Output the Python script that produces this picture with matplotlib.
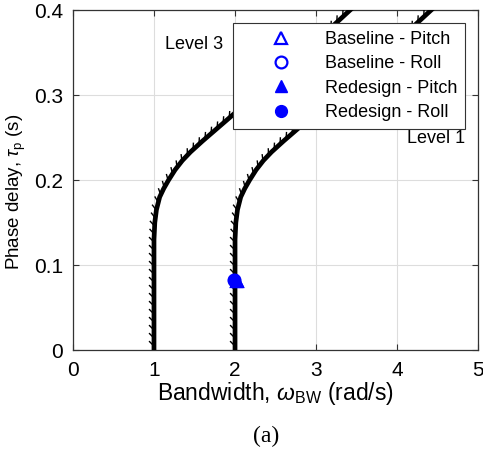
import matplotlib
matplotlib.use("Agg")
import matplotlib.pyplot as plt
from matplotlib.collections import LineCollection
import numpy as np

plt.rcParams["font.family"] = "Liberation Sans"
plt.rcParams["mathtext.fontset"] = "custom"
plt.rcParams["mathtext.rm"] = "Liberation Sans"
plt.rcParams["mathtext.it"] = "Liberation Sans:italic"

# Level boundaries (bandwidth rad/s, phase delay s)
lvl3_bw = [1.0, 1.0, 1.01, 1.03, 1.07, 1.12, 1.18, 1.26, 1.35, 1.45, 1.60, 1.94, 2.50, 3.00, 3.42, 3.55]
lvl3_tau = [0.0, 0.13, 0.15, 0.165, 0.18, 0.19, 0.20, 0.212, 0.223, 0.233, 0.246, 0.274, 0.321, 0.363, 0.40, 0.411]
lvl1_bw = [2.0, 2.0, 2.01, 2.03, 2.07, 2.12, 2.18, 2.26, 2.35, 2.45, 2.60, 2.94, 3.50, 4.00, 4.42, 4.55]
lvl1_tau = [0.0, 0.13, 0.15, 0.165, 0.18, 0.19, 0.20, 0.212, 0.223, 0.233, 0.246, 0.274, 0.321, 0.363, 0.40, 0.411]

# aircraft points
base_pitch = (2.03, 0.081)
base_roll = (1.99, 0.083)
redes_pitch = (2.03, 0.081)
redes_roll = (1.99, 0.083)


def hatch(ax, bw, tau, spacing=8.0, length=7.0, angle=45):
    # short ticks on the left side of the boundary, spaced evenly in pixels
    pts = ax.transData.transform(np.column_stack([bw, tau]))
    seg = np.diff(pts, axis=0)
    ds = np.hypot(seg[:, 0], seg[:, 1])
    keep = ds > 0
    pts0, seg, ds = pts[:-1][keep], seg[keep], ds[keep]
    s = np.concatenate([[0], np.cumsum(ds)])
    st = np.arange(spacing / 2, s[-1], spacing)
    idx = np.clip(np.searchsorted(s, st, side="right") - 1, 0, len(seg) - 1)
    frac = (st - s[idx]) / ds[idx]
    p0 = pts0[idx] + seg[idx] * frac[:, None]
    u = seg[idx] / ds[idx][:, None]
    a = np.radians(angle)
    d = np.column_stack([u[:, 0] * np.cos(a) - u[:, 1] * np.sin(a),
                         u[:, 0] * np.sin(a) + u[:, 1] * np.cos(a)])
    p1 = p0 + d * length
    inv = ax.transData.inverted()
    segs = [inv.transform(np.vstack([q0, q1])) for q0, q1 in zip(p0, p1)]
    ax.add_collection(LineCollection(segs, colors="black", linewidths=1.0, zorder=3))


fig = plt.figure(figsize=(4.83, 4.57), dpi=100)
ax = fig.add_axes([0.151, 0.234, 0.839, 0.744])
ax.set_xlim(0, 5)
ax.set_ylim(0, 0.4)

ax.plot(lvl3_bw, lvl3_tau, color="black", lw=3.4, solid_capstyle="butt", zorder=3)
ax.plot(lvl1_bw, lvl1_tau, color="black", lw=3.4, solid_capstyle="butt", zorder=3)
hatch(ax, lvl3_bw, lvl3_tau)
hatch(ax, lvl1_bw, lvl1_tau)

ax.plot(*base_pitch, ls="none", marker="^", mfc="none", mec="blue", mew=1.6, ms=9, label="Baseline - Pitch", zorder=4)
ax.plot(*base_roll, ls="none", marker="o", mfc="none", mec="blue", mew=1.6, ms=8.5, label="Baseline - Roll", zorder=4)
ax.plot(*redes_pitch, ls="none", marker="^", color="blue", ms=9, label="Redesign - Pitch", zorder=5)
ax.plot(*redes_roll, ls="none", marker="o", color="blue", ms=8.5, label="Redesign - Roll", zorder=5)

ax.text(1.49, 0.359, "Level 3", fontsize=13, ha="center", va="center")
ax.text(4.48, 0.249, "Level 1", fontsize=13, ha="center", va="center")

ax.set_xticks([0, 1, 2, 3, 4, 5])
ax.set_yticks([0, 0.1, 0.2, 0.3, 0.4])
ax.set_yticklabels(["0", "0.1", "0.2", "0.3", "0.4"])
ax.grid(True, color="#dddddd", lw=0.8)
ax.set_axisbelow(True)
ax.tick_params(direction="in", top=True, right=True, labelsize=15, length=4, width=0.8, color="#333333")
ax.tick_params(axis="x", pad=8)
ax.tick_params(axis="y", pad=7)
for s in ax.spines.values():
    s.set_linewidth(0.9)
    s.set_color("#333333")

ax.set_xlabel(r"Bandwidth, $\omega_{\mathrm{BW}}$ (rad/s)", fontsize=16.5, labelpad=0)
ax.set_ylabel(r"Phase delay, $\tau_{\mathrm{p}}$ (s)", fontsize=13.5)
ax.yaxis.set_label_coords(-0.112, 0.465)

leg = ax.legend(loc="upper right", fontsize=13, frameon=True, fancybox=False, framealpha=1,
                edgecolor="#333333", handlelength=4.5, handletextpad=0.15, borderpad=0.45,
                labelspacing=0.4, borderaxespad=0.72, numpoints=1)
leg.get_frame().set_linewidth(0.8)

fig.text(0.552, 0.044, "(a)", fontsize=17, family="Liberation Serif", ha="center", va="center")

fig.savefig("out.png", dpi=100)
